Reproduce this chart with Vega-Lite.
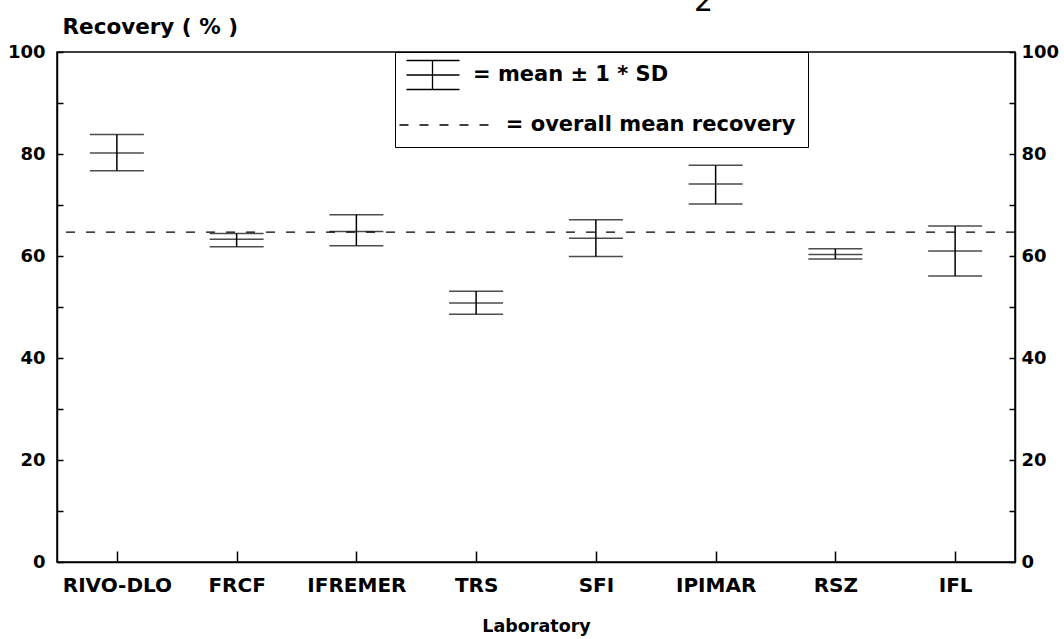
{
  "$schema": "https://vega.github.io/schema/vega-lite/v6.json",
  "width": 958,
  "height": 510,
  "autosize": {"type": "none"},
  "padding": {"left": 57, "top": 52, "right": 49, "bottom": 77},
  "background": "white",
  "config": {
    "view": {"stroke": "black", "strokeWidth": 1.5},
    "font": "DejaVu Sans",
    "axis": {
      "labelFont": "DejaVu Sans",
      "labelFontWeight": "bold",
      "labelColor": "black",
      "tickColor": "black",
      "domainColor": "black",
      "domainWidth": 1.5,
      "tickWidth": 1.5,
      "grid": false,
      "titleFont": "DejaVu Sans",
      "titleFontWeight": "bold",
      "titleColor": "black"
    }
  },
  "datasets": {
    "labs": [
      {"lab": "RIVO-DLO", "lo": 76.7, "mean": 80.2, "hi": 83.8},
      {"lab": "FRCF", "lo": 61.8, "mean": 63.3, "hi": 64.4},
      {"lab": "IFREMER", "lo": 62.0, "mean": 64.8, "hi": 68.1},
      {"lab": "TRS", "lo": 48.6, "mean": 50.8, "hi": 53.1},
      {"lab": "SFI", "lo": 59.9, "mean": 63.5, "hi": 67.1},
      {"lab": "IPIMAR", "lo": 70.2, "mean": 74.1, "hi": 77.8},
      {"lab": "RSZ", "lo": 59.4, "mean": 60.3, "hi": 61.4},
      {"lab": "IFL", "lo": 56.1, "mean": 61.0, "hi": 65.9}
    ],
    "legend": [
      {"entry": "= mean ± 1 * SD"},
      {"entry": "= overall mean recovery"}
    ],
    "overall": [{"value": 64.7}],
    "note": [{"lab": "IPIMAR", "y": 108, "text": "2"}]
  },
  "layer": [
    {
      "data": {"name": "labs"},
      "mark": {"type": "rule", "color": "black", "strokeWidth": 1.5},
      "encoding": {
        "x": {
          "field": "lab", "type": "nominal", "sort": null,
          "scale": {"type": "point", "padding": 0.5},
          "axis": {
            "title": "Laboratory", "titleFontSize": 17.5, "titleY": 69, "titleBaseline": "alphabetic",
            "labelAngle": 0, "labelFontSize": 20, "tickSize": -11, "labelPadding": 24,
            "labelBaseline": "top"
          }
        },
        "y": {
          "field": "lo", "type": "quantitative",
          "scale": {"domain": [0, 100], "nice": false, "zero": false},
          "axis": {
            "orient": "left",
            "values": [0, 10, 20, 30, 40, 50, 60, 70, 80, 90, 100],
            "labelExpr": "datum.value % 20 === 0 ? datum.label : ''",
            "labelFontSize": 18, "tickSize": -6, "labelPadding": 18,
            "title": "Recovery ( % )", "titleAngle": 0, "titleAlign": "left",
            "titleBaseline": "alphabetic", "titleX": 5, "titleY": -19, "titleFontSize": 21.5
          }
        },
        "y2": {"field": "hi"}
      }
    },
    {
      "data": {"name": "labs"},
      "mark": {"type": "tick", "color": "black", "thickness": 1.5, "size": 54, "orient": "horizontal"},
      "encoding": {
        "x": {"field": "lab", "type": "nominal", "sort": null},
        "y": {
          "field": "lo", "type": "quantitative",
          "scale": {"domain": [0, 100], "nice": false, "zero": false},
          "axis": {
            "orient": "right",
            "values": [0, 10, 20, 30, 40, 50, 60, 70, 80, 90, 100],
            "labelExpr": "datum.value % 20 === 0 ? datum.label : ''",
            "labelFontSize": 18, "tickSize": -6, "labelPadding": 12,
            "title": null
          }
        }
      }
    },
    {
      "data": {"name": "labs"},
      "mark": {"type": "tick", "color": "black", "thickness": 1.5, "size": 54, "orient": "horizontal"},
      "encoding": {
        "x": {"field": "lab", "type": "nominal", "sort": null},
        "y": {"field": "mean", "type": "quantitative", "scale": {"domain": [0, 100], "nice": false, "zero": false}, "axis": null}
      }
    },
    {
      "data": {"name": "labs"},
      "mark": {"type": "tick", "color": "black", "thickness": 1.5, "size": 54, "orient": "horizontal"},
      "encoding": {
        "x": {"field": "lab", "type": "nominal", "sort": null},
        "y": {"field": "hi", "type": "quantitative", "scale": {"domain": [0, 100], "nice": false, "zero": false}, "axis": null}
      }
    },
    {
      "data": {"name": "overall"},
      "mark": {"type": "rule", "color": "black", "strokeWidth": 1.3, "strokeDash": [9, 11]},
      "encoding": {
        "y": {"field": "value", "type": "quantitative", "scale": {"domain": [0, 100], "nice": false, "zero": false}, "axis": null}
      }
    },
    {
      "data": {"name": "note"},
      "mark": {"type": "text", "fontSize": 30, "font": "DejaVu Sans", "color": "black", "dx": -12, "baseline": "alphabetic", "clip": false},
      "encoding": {
        "x": {"field": "lab", "type": "nominal", "sort": null},
        "y": {"field": "y", "type": "quantitative", "scale": {"domain": [0, 100], "nice": false, "zero": false}, "axis": null},
        "text": {"field": "text"}
      }
    },
    {
      "data": {"name": "legend"},
      "mark": {"type": "point", "opacity": 0, "filled": false, "color": "black"},
      "encoding": {
        "shape": {
          "field": "entry", "type": "nominal",
          "scale": {
            "domain": ["= mean ± 1 * SD", "= overall mean recovery"],
            "range": [
              "M-1.15,-1.45H4.15M-1.15,0H4.15M-1.15,1.45H4.15M1.45,-1.45V1.45",
              "M-1.85,0H-0.95M0.15,0H1.05M2.15,0H3.05M4.15,0H5.05M6.15,0H7.05"
            ]
          },
          "legend": {
            "title": null, "orient": "none", "legendX": 338, "legendY": 0,
            "strokeColor": "black", "fillColor": "white", "padding": 12,
            "symbolSize": 400, "symbolStrokeColor": "black", "symbolStrokeWidth": 1.3,
            "symbolFillColor": "transparent", "symbolOpacity": 1,
            "labelFont": "DejaVu Sans", "labelFontWeight": "bold", "labelFontSize": 21,
            "labelExpr": "datum.label == '= overall mean recovery' ? '\u2800\u2800' + datum.label : datum.label",
            "labelColor": "black", "labelOffset": 44, "rowPadding": 21, "labelLimit": 400
          }
        }
      }
    }
  ],
  "resolve": {"scale": {"y": "shared"}, "axis": {"y": "independent"}}
}
